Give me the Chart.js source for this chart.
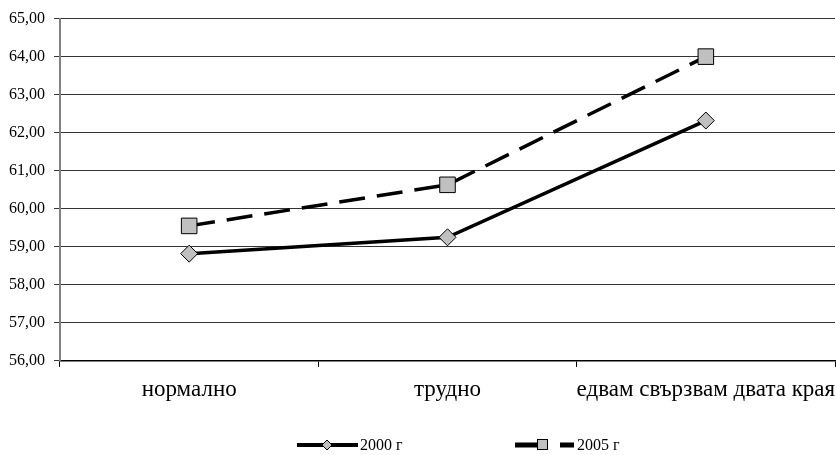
<!DOCTYPE html>
<html>
<head>
<meta charset="utf-8">
<script src="https://cdn.jsdelivr.net/npm/chart.js@4.4.1/dist/chart.umd.min.js"></script>
<style>
  html, body { margin: 0; padding: 0; background: #fff; }
  #wrap { width: 836px; height: 455px; }
</style>
</head>
<body>
<div id="wrap"><canvas id="chart" width="836" height="455"></canvas></div>
<script>
  "use strict";

  // chart data
  var categories = ["нормално", "трудно", "едвам свързвам двата края"];
  var values2000 = [58.82, 59.25, 62.32];
  var values2005 = [59.55, 60.63, 64.0];
  var seriesLabels = ["2000 г", "2005 г"];
  var yMin = 56;
  var yMax = 65;

  var FONT = "'Liberation Serif', 'Times New Roman', serif";
  var MARKER_FILL = "#c0c0c0";

  // draws the legend below the x labels: line + marker + text, like the original
  var bottomLegend = {
    id: "bottomLegend",
    afterDraw: function (chart) {
      var ctx = chart.ctx;
      var y = 445;
      ctx.save();
      ctx.font = "16px " + FONT;
      ctx.textBaseline = "middle";
      ctx.fillStyle = "#000";

      // 2000: solid line with diamond
      ctx.strokeStyle = "#000";
      ctx.lineWidth = 4;
      ctx.beginPath();
      ctx.moveTo(297, y);
      ctx.lineTo(358, y);
      ctx.stroke();
      ctx.lineWidth = 1;
      ctx.fillStyle = MARKER_FILL;
      ctx.beginPath();
      ctx.moveTo(327, y - 5);
      ctx.lineTo(332, y);
      ctx.lineTo(327, y + 5);
      ctx.lineTo(322, y);
      ctx.closePath();
      ctx.fill();
      ctx.stroke();
      ctx.fillStyle = "#000";
      ctx.fillText(seriesLabels[0], 360, y + 1);

      // 2005: dashed line with square
      ctx.lineWidth = 5;
      ctx.beginPath();
      ctx.moveTo(515, y);
      ctx.lineTo(540, y);
      ctx.moveTo(560, y);
      ctx.lineTo(574, y);
      ctx.stroke();
      ctx.lineWidth = 1;
      ctx.fillStyle = MARKER_FILL;
      ctx.fillRect(537.5, y - 5.5, 10, 10);
      ctx.strokeRect(537.5, y - 5.5, 10, 10);
      ctx.fillStyle = "#000";
      ctx.fillText(seriesLabels[1], 577, y + 1);
      ctx.restore();
    }
  };

  var ctx = document.getElementById("chart").getContext("2d");

  new Chart(ctx, {
    type: "line",
    data: {
      labels: categories,
      datasets: [
        {
          label: seriesLabels[0],
          data: values2000,
          borderColor: "#000",
          borderWidth: 3.5,
          pointStyle: "rectRot",
          pointRadius: 8.5,
          pointBackgroundColor: MARKER_FILL,
          pointBorderColor: "#000",
          pointBorderWidth: 1,
          tension: 0,
        },
        {
          label: seriesLabels[1],
          data: values2005,
          borderColor: "#000",
          borderWidth: 3.5,
          borderDash: [26, 12],
          pointStyle: "rect",
          pointRadius: 11,
          pointBackgroundColor: MARKER_FILL,
          pointBorderColor: "#000",
          pointBorderWidth: 1,
          tension: 0,
        },
      ],
    },
    options: {
      responsive: false,
      animation: false,
      layout: {
        autoPadding: false,
        padding: { top: 15, right: 1, left: 0, bottom: 43 },
      },
      plugins: {
        legend: { display: false },
        tooltip: { enabled: false },
      },
      scales: {
        x: {
          offset: true,
          border: { color: "#000", width: 1.5 },
          grid: {
            offset: true,
            drawOnChartArea: false,
            drawTicks: true,
            tickLength: 6,
            color: "#000",
          },
          ticks: {
            color: "#000",
            // padding 0 so the last label does not push the plot in;
            // the tall line height moves the labels down instead
            padding: 0,
            maxRotation: 0,
            autoSkip: false,
            font: { family: FONT, size: 23, lineHeight: 1.96 },
          },
        },
        y: {
          min: yMin,
          max: yMax,
          border: { color: "#808080", width: 2 },
          grid: {
            color: "#333",
            lineWidth: 1,
            drawTicks: true,
            tickLength: 6,
          },
          ticks: {
            stepSize: 1,
            color: "#000",
            padding: 9,
            font: { family: FONT, size: 16 },
            callback: function (v) {
              return Number(v).toFixed(2).replace(".", ",");
            },
          },
        },
      },
    },
    plugins: [bottomLegend],
  });
</script>
</body>
</html>
